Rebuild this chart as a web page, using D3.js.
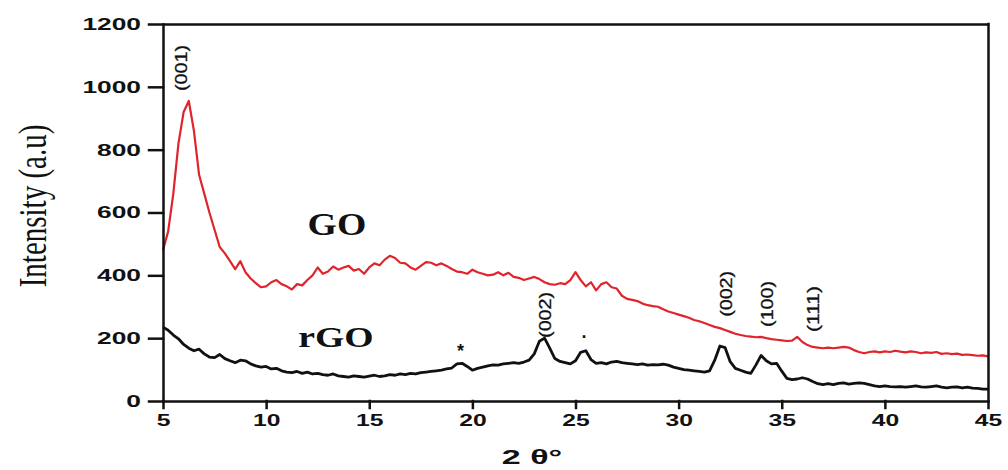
<!DOCTYPE html>
<html>
<head>
<meta charset="utf-8">
<script src="https://cdn.jsdelivr.net/npm/d3@7"></script>
<style>
  body { margin: 0; background: #fff; }
  svg { display: block; }
</style>
</head>
<body>
<svg width="1008" height="470"></svg>
<script>
// XRD patterns, sampled every 0.25 deg from 5 to 45
let angles = d3.range(5, 45.001, 0.25)

let goValues = [
  480, 540, 660, 820, 920, 955, 860, 720,
  660, 600, 545, 490, 470, 445, 420, 445,
  410, 390, 375, 362, 365, 378, 385, 372,
  365, 355, 372, 368, 385, 400, 425, 405,
  412, 428, 418, 425, 430, 415, 420, 405,
  425, 438, 432, 450, 462, 455, 440, 438,
  425, 418, 430, 442, 440, 432, 438, 430,
  420, 412, 410, 405, 418, 410, 405, 400,
  402, 410, 400, 408, 395, 392, 385, 390,
  395, 388, 378, 372, 370, 375, 372, 385,
  410, 385, 365, 378, 352, 372, 378, 362,
  358, 335, 325, 322, 318, 310, 305, 302,
  300, 292, 285, 280, 275, 270, 265, 258,
  254, 248, 242, 236, 232, 226, 220, 214,
  210, 207, 205, 203, 204, 200, 197, 195,
  193, 191, 192, 204, 188, 178, 172, 170,
  168, 170, 168, 170, 172, 170, 162, 156,
  152, 156, 158, 155, 158, 156, 160, 157,
  155, 158, 156, 152, 155, 153, 156, 150,
  152, 149, 151, 147, 148, 146, 144, 145,
  142
]

let rgoValues = [
  235, 225, 210, 198, 180, 168, 160, 165,
  150, 140, 138, 148, 135, 128, 122, 130,
  128, 118, 112, 108, 110, 102, 104, 96,
  92, 90, 94, 88, 92, 86, 88, 84,
  82, 86, 80, 78, 76, 80, 78, 76,
  79, 82, 78, 80, 84, 82, 86, 84,
  88, 86, 90, 92, 94, 96, 98, 102,
  105, 118, 120, 110, 98, 104, 108, 112,
  115, 114, 118, 120, 122, 120, 124, 130,
  150, 190, 200, 168, 135, 126, 122, 118,
  128, 155, 160, 132, 120, 122, 118, 124,
  126, 122, 120, 118, 116, 118, 114, 116,
  115, 117, 114, 108, 104, 100, 98, 96,
  94, 92, 96, 130, 175, 170, 125, 104,
  98, 92, 88, 115, 145, 128, 118, 120,
  95, 72, 68, 70, 74, 70, 62, 55,
  52, 55, 52, 56, 58, 54, 56, 58,
  56, 52, 48, 46, 48, 46, 45, 46,
  44, 46, 48, 45, 44, 46, 48, 44,
  42, 44, 45, 42, 44, 41, 40, 38,
  38
]

let xTicks = [5, 10, 15, 20, 25, 30, 35, 40, 45]
let yTicks = [0, 200, 400, 600, 800, 1000, 1200]

// peak labels (angle, intensity of the label centre)
let peakNames = ["(001)", "(002)", "(002)", "(100)", "(111)"]
let peakAngles = [5.87, 23.54, 32.28, 34.27, 36.5]
let peakLevels = [1060, 274, 341, 309, 293]

let markNames = ["*", "·"]
let markAngles = [19.42, 25.44]
let markLevels = [140, 185]

let svg = d3.select("svg")

let x = d3.scaleLinear().domain([5, 45]).range([163, 988])
let y = d3.scaleLinear().domain([0, 1200]).range([401, 24])

// the source figure is stretched sideways, so widen text to match
let stretch = (sel, k) => {
  sel.each(function () {
    let w = this.getComputedTextLength()
    d3.select(this).attr("textLength", w * k).attr("lengthAdjust", "spacingAndGlyphs")
  })
}

let line = d3.line()
  .x((d) => x(d[0]))
  .y((d) => y(d[1]))

svg.append("path")
  .datum(angles.map((a, i) => [a, goValues[i]]))
  .attr("fill", "none")
  .attr("stroke", "#e0242c")
  .attr("stroke-width", 2.2)
  .attr("stroke-linejoin", "round")
  .attr("d", line)

svg.append("path")
  .datum(angles.map((a, i) => [a, rgoValues[i]]))
  .attr("fill", "none")
  .attr("stroke", "#111")
  .attr("stroke-width", 2.8)
  .attr("stroke-linejoin", "round")
  .attr("d", line)

// axes
let xAxis = svg.append("g")
  .attr("transform", "translate(0," + y(0) + ")")
  .call(d3.axisBottom(x).tickValues(xTicks).tickSize(7).tickPadding(6).tickSizeOuter(0))

let yAxis = svg.append("g")
  .attr("transform", "translate(" + x(5) + ",0)")
  .call(d3.axisLeft(y).tickValues(yTicks).tickFormat(d3.format("d")).tickSize(14).tickPadding(8).tickSizeOuter(0))

// close the box: last x tick runs up the right side, top y tick runs along the top
xAxis.selectAll(".tick line")
  .filter((d) => d === 45)
  .attr("y1", y(1200) - y(0))

yAxis.selectAll(".tick line")
  .filter((d) => d === 1200)
  .attr("x1", x(45) - x(5))

svg.selectAll(".domain, .tick line")
  .attr("stroke", "#111")
  .attr("stroke-width", 2.5)
  .attr("stroke-linecap", "square")

svg.selectAll(".tick text")
  .attr("fill", "#111")
  .attr("font-family", "'Liberation Sans', Arial, sans-serif")
  .attr("font-weight", "bold")
  .attr("font-size", "17px")

stretch(xAxis.selectAll(".tick text"), 1.45)
stretch(yAxis.selectAll(".tick text"), 1.55)

// axis titles
svg.append("text")
  .attr("transform", "translate(32,206) scale(1.4,1) rotate(-90)")
  .attr("text-anchor", "middle")
  .attr("dy", "0.35em")
  .attr("font-family", "'Liberation Serif', 'Times New Roman', serif")
  .attr("font-size", "29px")
  .attr("fill", "#111")
  .text("Intensity (a.u)")

let xTitle = svg.append("text")
  .attr("x", 532)
  .attr("y", 464)
  .attr("text-anchor", "middle")
  .attr("font-family", "'Liberation Sans', Arial, sans-serif")
  .attr("font-weight", "bold")
  .attr("font-size", "20px")
  .attr("fill", "#111")
  .text("2 θ°")
stretch(xTitle, 1.7)

// series names
let goLabel = svg.append("text")
  .attr("x", 337)
  .attr("y", 235)
  .attr("text-anchor", "middle")
  .attr("font-family", "'Liberation Serif', 'Times New Roman', serif")
  .attr("font-weight", "bold")
  .attr("font-size", "32px")
  .attr("fill", "#111")
  .text("GO")
stretch(goLabel, 1.18)

let rgoLabel = svg.append("text")
  .attr("x", 336)
  .attr("y", 347)
  .attr("text-anchor", "middle")
  .attr("font-family", "'Liberation Serif', 'Times New Roman', serif")
  .attr("font-weight", "bold")
  .attr("font-size", "29px")
  .attr("fill", "#111")
  .text("rGO")
stretch(rgoLabel, 1.3)

// peak indices
svg.selectAll(".peak")
  .data(peakNames)
  .enter().append("text")
  .attr("class", "peak")
  .attr("transform", (d, i) => "translate(" + x(peakAngles[i]) + "," + y(peakLevels[i]) + ") rotate(-90)")
  .attr("text-anchor", "middle")
  .attr("dy", "0.35em")
  .attr("font-family", "'Liberation Sans', Arial, sans-serif")
  .attr("font-size", "17px")
  .attr("fill", "#111")
  .attr("stroke", "#111")
  .attr("stroke-width", 0.3)
  .attr("textLength", 46)
  .attr("lengthAdjust", "spacingAndGlyphs")
  .text((d) => d)

svg.selectAll(".mark")
  .data(markNames)
  .enter().append("text")
  .attr("class", "mark")
  .attr("x", (d, i) => x(markAngles[i]))
  .attr("y", (d, i) => y(markLevels[i]))
  .attr("text-anchor", "middle")
  .attr("font-family", "'Liberation Sans', Arial, sans-serif")
  .attr("font-weight", "bold")
  .attr("font-size", "18px")
  .attr("fill", "#111")
  .text((d) => d)
</script>
</body>
</html>
